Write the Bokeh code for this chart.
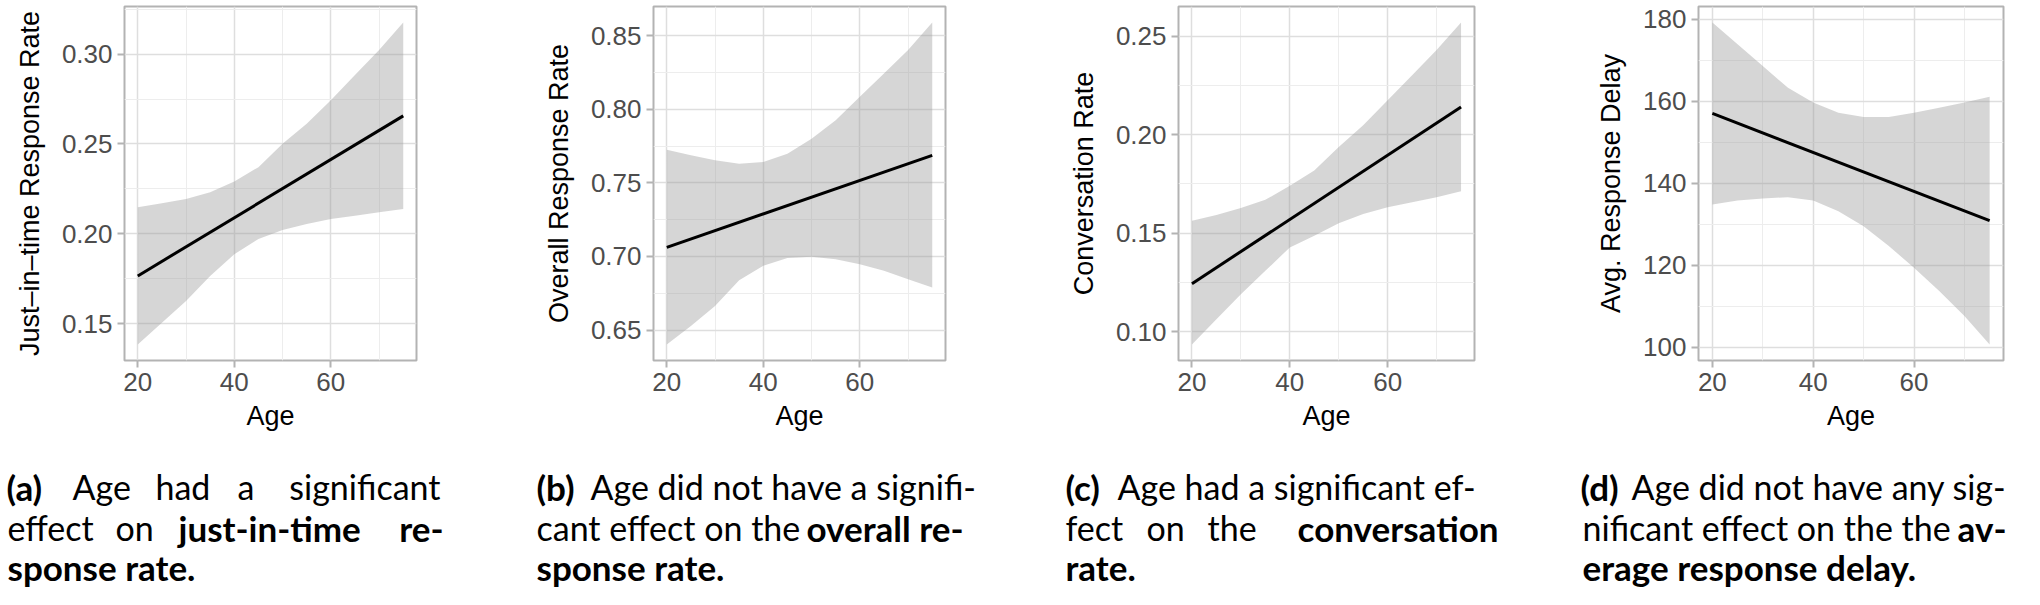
from bokeh.plotting import figure
from bokeh.layouts import row, column
from bokeh.models import Range1d, FixedTicker, NumeralTickFormatter, ColumnDataSource
from bokeh.embed import file_html
from bokeh.resources import INLINE
from bokeh.core.properties import value

# ---------------- data ----------------
age = [20, 25, 30, 35, 40, 45, 50, 55, 60, 65, 70, 75]
fit_age = [20, 75]

jit_fit = [0.1766, 0.2656]
jit_upper = [0.2148, 0.2170, 0.2194, 0.2231, 0.2291, 0.2371, 0.2501, 0.2613, 0.2743, 0.2883, 0.3022, 0.3175]
jit_lower = [0.1385, 0.1505, 0.1626, 0.1766, 0.1887, 0.1971, 0.2021, 0.2055, 0.2082, 0.2101, 0.2120, 0.2138]

overall_fit = [0.7062, 0.7688]
overall_upper = [0.7726, 0.7688, 0.7654, 0.7631, 0.7642, 0.7699, 0.7801, 0.7927, 0.8086, 0.8245, 0.8404, 0.8591]
overall_lower = [0.6402, 0.6527, 0.6664, 0.6839, 0.6937, 0.6989, 0.6998, 0.6982, 0.6948, 0.6903, 0.6846, 0.6789]

conv_fit = [0.1244, 0.2140]
conv_upper = [0.1563, 0.1592, 0.1628, 0.1669, 0.1741, 0.1818, 0.1937, 0.2047, 0.2174, 0.2301, 0.2429, 0.2568]
conv_lower = [0.0936, 0.1063, 0.1190, 0.1309, 0.1428, 0.1487, 0.1550, 0.1597, 0.1631, 0.1657, 0.1682, 0.1713]

delay_fit = [157.05, 130.9]
delay_upper = [179.2, 173.9, 168.6, 163.3, 159.7, 157.2, 156.2, 156.2, 157.2, 158.4, 159.7, 161.1]
delay_lower = [134.8, 135.8, 136.3, 136.6, 135.8, 133.2, 129.5, 124.7, 119.4, 113.7, 107.6, 100.7]

x_ticks = [20, 40, 60]
x_minor = [30, 50, 70]

y_labels = ["Just\u2013in\u2013time Response Rate", "Overall Response Rate",
            "Conversation Rate", "Avg. Response Delay"]
x_label = "Age"

jit_ticks = [0.15, 0.20, 0.25, 0.30]
jit_minor = [0.125, 0.175, 0.225, 0.275, 0.325]
overall_ticks = [0.65, 0.70, 0.75, 0.80, 0.85]
overall_minor = [0.625, 0.675, 0.725, 0.775, 0.825, 0.875]
conv_ticks = [0.10, 0.15, 0.20, 0.25]
conv_minor = [0.075, 0.125, 0.175, 0.225, 0.275]
delay_ticks = [100, 120, 140, 160, 180]
delay_minor = [90, 110, 130, 150, 170, 190]

# ---------------- styling / layout ----------------
AX_FONT = "Liberation Sans"
BORDER = "#B3B3B3"
TOTAL_W = 2008
PLOT_H = 440
FRAME_TOP, FRAME_BOTTOM = 6, 360
CAP_H = 149

panels = [
    dict(lab=y_labels[0], fit=jit_fit, up=jit_upper, lo=jit_lower, ticks=jit_ticks, minor=jit_minor, fmt="0.00",
         width=530, bl=124, fw=292),
    dict(lab=y_labels[1], fit=overall_fit, up=overall_upper, lo=overall_lower, ticks=overall_ticks, minor=overall_minor,
         fmt="0.00", width=520, bl=123, fw=292),
    dict(lab=y_labels[2], fit=conv_fit, up=conv_upper, lo=conv_lower, ticks=conv_ticks, minor=conv_minor, fmt="0.00",
         width=520, bl=128, fw=296),
    dict(lab=y_labels[3], fit=delay_fit, up=delay_upper, lo=delay_lower, ticks=delay_ticks, minor=delay_minor, fmt="0",
         width=TOTAL_W - 530 - 520 - 520, bl=128, fw=305),
]


def make_panel(cfg):
    lo, hi = cfg["lo"], cfg["up"]
    ypad = 0.05 * (max(hi) - min(lo))
    xpad = 0.05 * (max(age) - min(age))
    p = figure(width=cfg["width"], height=PLOT_H, output_backend="svg", toolbar_location=None,
               x_range=Range1d(min(age) - xpad, max(age) + xpad),
               y_range=Range1d(min(lo) - ypad, max(hi) + ypad),
               min_border_left=cfg["bl"], min_border_right=cfg["width"] - cfg["bl"] - cfg["fw"],
               min_border_top=FRAME_TOP, min_border_bottom=PLOT_H - FRAME_BOTTOM)
    src = ColumnDataSource(dict(age=age, lo=lo, hi=hi))
    p.varea(x="age", y1="lo", y2="hi", source=src, fill_color="#999999", fill_alpha=0.4)
    p.line(fit_age, cfg["fit"], line_color="black", line_width=3)

    xt = FixedTicker(ticks=x_ticks, minor_ticks=x_minor)
    yt = FixedTicker(ticks=cfg["ticks"], minor_ticks=cfg["minor"])
    p.xaxis.ticker = xt
    p.yaxis.ticker = yt
    p.xgrid.ticker = xt
    p.ygrid.ticker = yt
    p.yaxis.formatter = NumeralTickFormatter(format=cfg["fmt"])

    for g in (p.xgrid, p.ygrid):
        g.grid_line_color = "#DEDEDE"
        g.grid_line_width = 1.5
        g.minor_grid_line_color = "#EDEDED"
        g.minor_grid_line_width = 1

    p.outline_line_color = BORDER
    p.outline_line_width = 2
    p.background_fill_color = "white"
    p.border_fill_color = "white"

    p.axis.axis_line_color = None
    p.axis.major_tick_line_color = BORDER
    p.axis.major_tick_line_width = 2
    p.axis.major_tick_in = 0
    p.axis.major_tick_out = 7
    p.axis.minor_tick_line_color = None
    p.axis.major_label_text_font = AX_FONT
    p.axis.major_label_text_font_size = "26px"
    p.axis.major_label_text_color = "#4D4D4D"
    p.axis.major_label_standoff = 5
    p.axis.axis_label_text_font = AX_FONT
    p.axis.axis_label_text_font_size = "27px"
    p.axis.axis_label_text_font_style = "normal"
    p.axis.axis_label_text_color = "black"
    p.xaxis.axis_label = x_label
    p.yaxis.axis_label = cfg["lab"]
    p.xaxis.axis_label_standoff = 7
    p.yaxis.axis_label_standoff = 14
    return p


plots = [make_panel(c) for c in panels]

# ---------------- captions (coordinates = picture pixels) ----------------
cap_top, cap_bottom = PLOT_H, PLOT_H + CAP_H
RIGHT = TOTAL_W - 2
cap = figure(width=TOTAL_W, height=CAP_H, output_backend="svg", toolbar_location=None,
             x_range=Range1d(0, TOTAL_W), y_range=Range1d(cap_bottom, cap_top),
             x_axis_type=None, y_axis_type=None, min_border=0)
cap.grid.visible = False
cap.outline_line_color = None

baselines = [486, 527, 566]
# (text, x, line, bold, align)
segments = [
    ("(a)", 6, 0, True, "left"), ("Age", 72, 0, False, "left"), ("had", 155, 0, False, "left"),
    ("a", 237, 0, False, "left"), ("significant", 440, 0, False, "right"),
    ("effect", 7, 1, False, "left"), ("on", 115, 1, False, "left"), ("just-in-time", 178, 1, True, "left"),
    ("re-", 443, 1, True, "right"),
    ("sponse rate.", 7, 2, True, "left"),

    ("(b)", 536, 0, True, "left"), ("Age did not have a signifi-", 590, 0, False, "left"),
    ("cant effect on the", 536, 1, False, "left"), ("overall re-", 806, 1, True, "left"),
    ("sponse rate.", 536, 2, True, "left"),

    ("(c)", 1065, 0, True, "left"), ("Age had a significant ef-", 1117, 0, False, "left"),
    ("fect", 1065, 1, False, "left"), ("on", 1146, 1, False, "left"), ("the", 1207, 1, False, "left"),
    ("conversation", 1498, 1, True, "right"),
    ("rate.", 1065, 2, True, "left"),

    ("(d)", 1580, 0, True, "left"), ("Age did not have any sig-", RIGHT, 0, False, "right"),
    ("nificant effect on the the", 1582, 1, False, "left"), ("av-", RIGHT, 1, True, "right"),
    ("erage response delay.", 1582, 2, True, "left"),
]

for bold in (True, False):
    for align in ("left", "right"):
        sel = [s for s in segments if s[3] == bold and s[4] == align]
        if not sel:
            continue
        cap.text(x=[s[1] for s in sel], y=[baselines[s[2]] for s in sel], text=[s[0] for s in sel],
                 text_font=value("Lato"), text_font_size="35px" if bold else "34px",
                 text_font_style="bold" if bold else "normal",
                 text_align=align, text_baseline="alphabetic", text_color="black")

layout = column(row(*plots), cap)
open("out.html", "w").write(file_html(layout, INLINE))
